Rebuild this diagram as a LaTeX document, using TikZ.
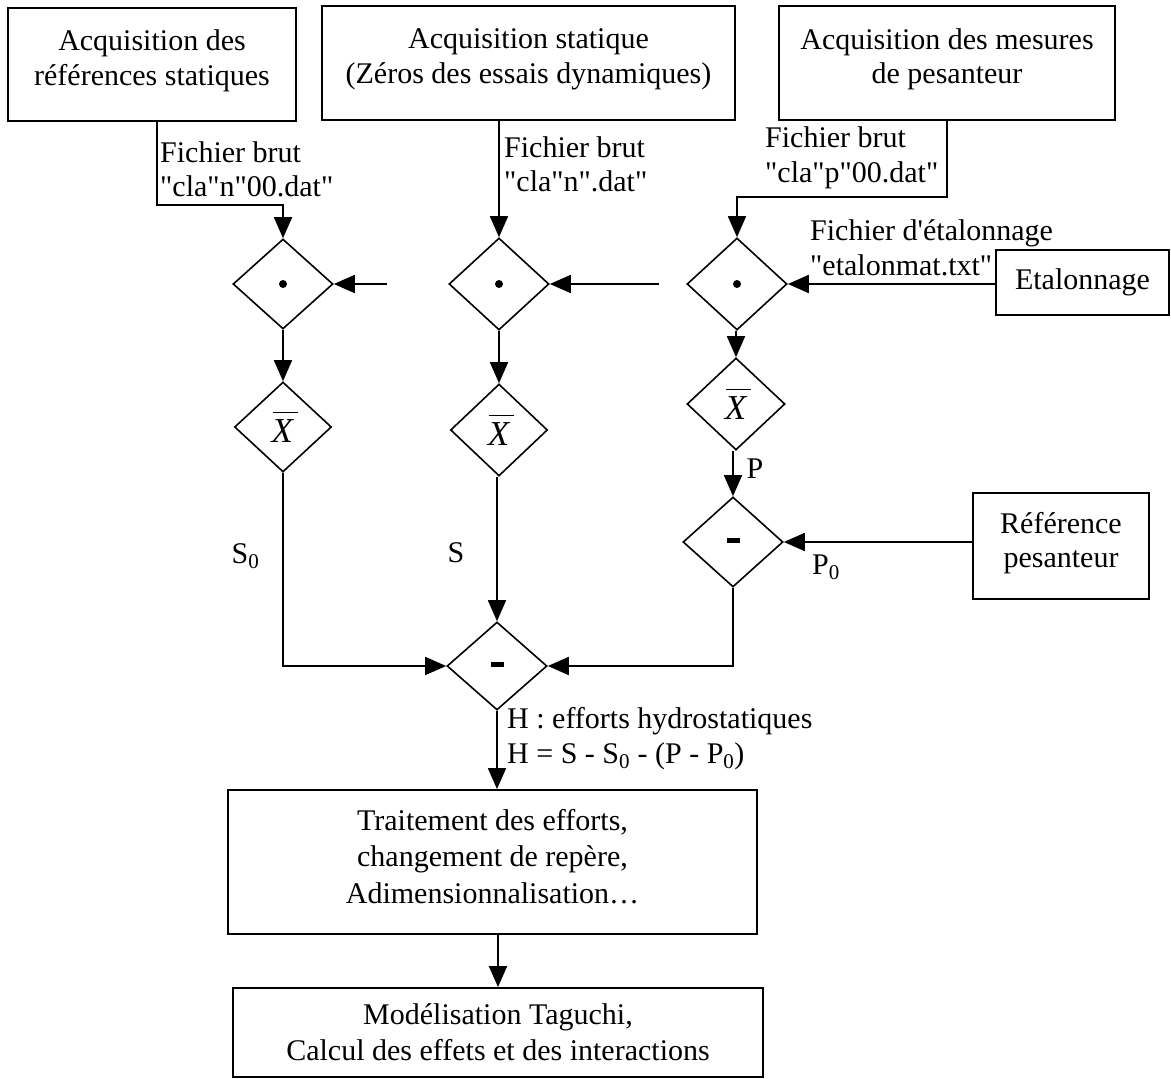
\documentclass[tikz,border=0pt]{standalone}
\usepackage{fontspec}
\setmainfont{Liberation Serif}[Ligatures=TeXOff]
\usetikzlibrary{shapes.geometric,arrows.meta}

% mean symbol: italic X with a bar over it
\newcommand\moyenne{{\fontsize{35}{35}\selectfont\rlap{\hspace{1pt}\rule[29pt]{25pt}{1.5pt}}\itshape X\/}}
\newcommand\moins{\rule[4pt]{13pt}{5pt}}
% extra depth on the last line, so the text sits a little above the box centre
\newcommand\lift[1]{\rule[-#1]{0pt}{0pt}}

\begin{document}
\begin{tikzpicture}[x=1pt,y=-1pt,
  every node/.style={font=\fontsize{30}{34.5}\selectfont},
  box/.style={draw, line width=1.8pt, align=center, inner sep=0pt},
  op/.style={draw, diamond, line width=1.6pt, inner sep=0pt,
             minimum width=100pt, minimum height=90pt},
  arr/.style={line width=1.8pt, -{Triangle[length=21pt,width=18pt]}},
  lbl/.style={inner sep=0pt, align=left, anchor=west},
  sym/.style={inner sep=0pt},
]
\useasboundingbox (0,0) rectangle (1171,1079);

% source and processing boxes
\node[box, minimum width=288pt, minimum height=113pt] (b1) at (152,64.5)
  {Acquisition des\\références statiques\lift{14pt}};
\node[box, minimum width=413pt, minimum height=114pt] (b2) at (528.5,63)
  {Acquisition statique\\(Zéros des essais dynamiques)\lift{14pt}};
\node[box, minimum width=336pt, minimum height=114pt] (b3) at (947,63)
  {Acquisition des mesures\\de pesanteur\lift{14pt}};
\node[box, minimum width=173pt, minimum height=65pt] (et) at (1082.5,282.5)
  {Etalonnage};
\node[box, minimum width=176pt, minimum height=106pt] (ref) at (1061,546)
  {Référence\\pesanteur\lift{12pt}};
\node[box, minimum width=529pt, minimum height=144pt,
      font=\fontsize{30}{36.5}\selectfont] (tr) at (492.5,862)
  {Traitement des efforts,\\changement de repère,\\Adimensionnalisation…\lift{12pt}};
\node[box, minimum width=530pt, minimum height=89pt,
      font=\fontsize{30}{36}\selectfont] (tag) at (498,1032.5)
  {Modélisation Taguchi,\\Calcul des effets et des interactions};

% operators: product, mean, difference
\node[op] (d1) at (283,284) {};
\node[op, minimum height=92pt] (d2) at (499,284) {};
\node[op, minimum height=92pt] (d3) at (737,284) {};
\fill (d1.center) circle (4pt);
\fill (d2.center) circle (4pt);
\fill (d3.center) circle (4pt);

\node[op, minimum width=97pt] (x1) at (283,427) {\moyenne};
\node[op, minimum width=97pt, minimum height=92pt] (x2) at (499,430) {\moyenne};
\node[op, minimum width=98pt, minimum height=92pt] (x3) at (736,404) {\moyenne};

\node[op] (m2) at (733,542) {\moins};
\node[op, minimum height=88pt] (mm) at (497,666) {\moins};

% free inputs of the first two products
\coordinate (f1) at (387,284);
\coordinate (f2) at (659,284);

% connectors
\draw[arr] ([xshift=5pt]b1.south) -- ++(0,83) -| (d1.north);
\draw[arr] (d2.north |- b2.south) -- (d2.north);
\draw[arr] (b3.south) -- ++(0,76) -| (d3.north);
\draw[arr] (f1) -- (d1.east);
\draw[arr] (f2) -- (d2.east);
\draw[arr] (d3.east -| et.west) -- (d3.east);

\draw[arr] (d1.south) -- (x1.north);
\draw[arr] (d2.south) -- (x2.north);
\draw[arr] (x3.north |- d3.south) -- (x3.north);
\draw[arr] (m2.north |- x3.south) -- (m2.north);
\draw[arr] (m2.east -| ref.west) -- (m2.east);

\draw[arr] (x1.south) |- (mm.west);
\draw[arr] (mm.north |- x2.south) -- (mm.north);
\draw[arr] (m2.south) |- (mm.east);

\draw[arr] (mm.south) -- (mm.south |- tr.north);
\draw[arr] (tag.north |- tr.south) -- (tag.north);

% connector labels
\node[lbl] (l1) at (160,169.5) {Fichier brut\\"cla"n"00.dat"};
\node[lbl] (l2) at (504,164.5) {Fichier brut\\"cla"n".dat"};
\node[lbl] (l3) at (765,158) {Fichier brut\\"cla"p"00.dat"};
\node[lbl] (l4) at (810,248) {Fichier d'étalonnage\\"etalonmat.txt"};
\node[sym] (s0) at (245.5,556) {S\textsubscript{0}};
\node[sym] (s) at (456,553) {S};
\node[sym] (p) at (755,469) {P};
\node[sym] (p0) at (826,567) {P\textsubscript{0}};
\node[lbl] (h) at (507,738.5) {H : efforts hydrostatiques\\H = S - S\textsubscript{0} - (P - P\textsubscript{0})};
\end{tikzpicture}
\end{document}
